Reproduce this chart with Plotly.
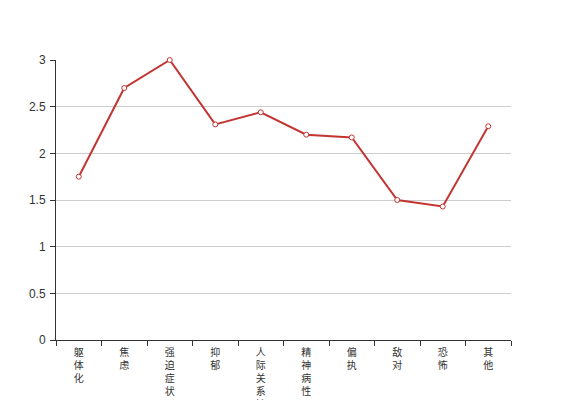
import plotly.graph_objects as go

categories = ["躯体化", "焦虑", "强迫症状", "抑郁", "人际关系敏感", "精神病性", "偏执", "敌对", "恐怖", "其他"]
values = [1.75, 2.70, 3.00, 2.31, 2.44, 2.20, 2.17, 1.50, 1.43, 2.29]
y_ticks = [0, 0.5, 1, 1.5, 2, 2.5, 3]

tick_text = ["<br>".join(list(c)) for c in categories]

fig = go.Figure()
fig.add_trace(go.Scatter(
    x=categories, y=values, mode="lines+markers",
    line=dict(color="#c23531", width=2),
    marker=dict(symbol="circle", size=5, color="white",
                line=dict(color="#c23531", width=1)),
    hoverinfo="x+y", showlegend=False, cliponaxis=False,
))

# page body has an 8px margin, so the figure is offset by (8, 8)
font_family = "Liberation Sans, Arial, Noto Sans CJK SC, sans-serif"
fig.update_layout(
    width=559, height=392,
    margin=dict(l=48, r=56, t=52, b=60, autoexpand=False),
    paper_bgcolor="white", plot_bgcolor="white",
    font=dict(family=font_family, size=12, color="#333"),
)
fig.update_xaxes(
    type="category", tickmode="array", tickvals=categories, ticktext=tick_text,
    tickson="boundaries", ticks="outside", ticklen=5, tickcolor="#333",
    showline=True, linecolor="#333", linewidth=1, showgrid=False,
    tickfont=dict(size=10, color="#333", family="Noto Sans CJK SC, sans-serif"),
    tickangle=0, automargin=False, range=[-0.5, 9.5], fixedrange=True,
    ticklabelstandoff=3,
)
fig.update_yaxes(
    range=[0, 3], tickmode="array", tickvals=y_ticks,
    ticktext=[("%g" % v) for v in y_ticks],
    ticks="outside", ticklen=5, tickcolor="#333",
    showline=True, linecolor="#333", linewidth=1,
    showgrid=True, gridcolor="#ccc", gridwidth=1, zeroline=False,
    tickfont=dict(size=12, color="#333"), automargin=False, fixedrange=True,
    ticklabelstandoff=2,
)

fig.write_html("out.html")
